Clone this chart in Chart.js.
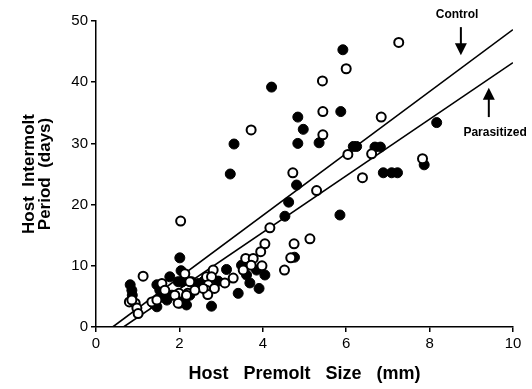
<!DOCTYPE html>
<html>
<head>
<meta charset="utf-8">
<script src="https://cdn.jsdelivr.net/npm/chart.js@4"></script>
<style>
  html, body { margin: 0; padding: 0; background: #fff; }
  #wrap { width: 532px; height: 389px; }
</style>
</head>
<body>
<div id="wrap"><canvas id="chart" width="532" height="389"></canvas></div>
<script>
// Control (open circles): premolt size (mm) / intermolt period (days)
const controlX = [7.26, 6.00, 5.43, 3.72, 5.44, 6.84, 5.44, 6.04, 6.61, 7.83,
                  6.39, 4.72, 5.29, 4.17, 4.05, 3.95, 4.75, 5.13, 4.67, 4.52,
                  2.03, 3.59, 3.77, 3.53, 3.72, 2.81, 2.65, 2.77, 2.69, 2.65,
                  2.84, 2.68, 2.57, 1.13, 2.13, 2.25, 1.99, 2.20, 1.58, 1.34,
                  1.46, 1.65, 0.80, 0.94, 0.98, 1.01, 0.86, 1.89, 1.97, 2.17,
                  2.37, 3.09, 3.29, 3.98];
const controlY = [46.5, 42.2, 40.2, 32.2, 35.2, 34.3, 31.4, 28.2, 28.3, 27.5,
                  24.4, 25.2, 22.3, 16.2, 13.6, 12.3, 13.6, 14.4, 11.3, 9.3,
                  17.3, 11.2, 11.2, 9.3, 10.1, 9.3, 8.2, 8.2, 6.9, 6.0,
                  6.3, 5.3, 6.3, 8.3, 8.7, 7.4, 5.5, 5.5, 7.1, 4.1,
                  4.4, 6.0, 4.1, 3.9, 3.1, 2.2, 4.4, 5.2, 3.9, 5.2,
                  6.0, 7.2, 8.0, 10.0];

// Parasitized (filled circles)
const parasitX = [5.92, 4.21, 3.31, 3.22, 4.84, 4.97, 4.84, 5.87, 5.35, 8.17,
                  6.17, 6.25, 6.69, 6.82, 7.87, 6.89, 7.09, 7.23, 5.85, 4.81,
                  4.62, 4.53, 4.76, 3.85, 4.05, 3.91, 2.01, 2.04, 1.97, 2.07,
                  2.13, 3.13, 2.77, 3.41, 3.49, 3.61, 1.77, 0.86, 0.87, 1.37,
                  1.53, 1.46, 1.58, 1.46, 1.70, 1.82, 2.01, 2.17, 2.29, 2.45,
                  2.57, 2.93, 3.69, 2.25, 0.82];
const parasitY = [45.3, 39.2, 29.9, 25.0, 34.3, 32.3, 30.0, 35.2, 30.1, 33.4,
                  29.5, 29.5, 29.4, 29.4, 26.5, 25.2, 25.2, 25.2, 18.3, 23.2,
                  20.4, 18.1, 11.4, 9.3, 8.5, 6.3, 11.3, 9.2, 7.4, 7.4,
                  4.4, 9.4, 3.4, 5.5, 10.1, 8.5, 8.2, 6.0, 5.2, 3.9,
                  6.0, 6.9, 5.2, 3.3, 4.4, 5.2, 3.9, 3.6, 7.4, 7.1,
                  7.4, 7.5, 7.2, 5.2, 6.9];

// regression lines (end points)
const controlLineX = [0.40, 10];
const controlLineY = [0, 48.6];
const parasitLineX = [0.66, 10];
const parasitLineY = [0, 43.2];

const xTicks = [0, 2, 4, 6, 8, 10];
const yTicks = [0, 10, 20, 30, 40, 50];

const FONT = '"Liberation Sans", Arial, Helvetica, sans-serif';

function pts(xs, ys) {
    return xs.map((x, i) => ({ x: x, y: ys[i] }));
}

// Etiquetas com setas (Control / Parasitized)
const arrowLabels = [
    { text: 'Control', tx: 8.66, ty: 51.1, x: 8.75, from: 49.0, to: 44.4 },
    { text: 'Parasitized', tx: 9.57, ty: 31.7, x: 9.42, from: 34.3, to: 39.1 }
];

const arrowPlugin = {
    id: 'arrows',
    afterDatasetsDraw(chart) {
        const ctx = chart.ctx;
        const xs = chart.scales.x, ys = chart.scales.y;
        ctx.save();
        ctx.fillStyle = '#000';
        ctx.strokeStyle = '#000';
        ctx.font = 'bold 12px ' + FONT;
        ctx.textAlign = 'center';
        ctx.textBaseline = 'middle';
        arrowLabels.forEach(a => {
            ctx.fillText(a.text, xs.getPixelForValue(a.tx), ys.getPixelForValue(a.ty));
            const px = xs.getPixelForValue(a.x);
            const y0 = ys.getPixelForValue(a.from);
            const y1 = ys.getPixelForValue(a.to);
            const dir = y1 > y0 ? 1 : -1;
            ctx.lineWidth = 2;
            ctx.beginPath();
            ctx.moveTo(px, y0);
            ctx.lineTo(px, y1 - dir * 10);
            ctx.stroke();
            ctx.beginPath();
            ctx.moveTo(px, y1);
            ctx.lineTo(px - 6, y1 - dir * 12);
            ctx.lineTo(px + 6, y1 - dir * 12);
            ctx.closePath();
            ctx.fill();
        });
        ctx.restore();
    }
};

new Chart(document.getElementById('chart'), {
    type: 'scatter',
    data: {
        datasets: [
            {
                label: 'Control',
                data: pts(controlX, controlY),
                pointRadius: 4.5,
                pointBackgroundColor: '#fff',
                pointBorderColor: '#000',
                pointBorderWidth: 2,
                order: 0
            },
            {
                label: 'Parasitized',
                data: pts(parasitX, parasitY),
                pointRadius: 5,
                pointBackgroundColor: '#000',
                pointBorderColor: '#000',
                pointBorderWidth: 1,
                order: 0
            },
            {
                label: 'Control fit',
                type: 'line',
                data: pts(controlLineX, controlLineY),
                borderColor: '#000',
                borderWidth: 1.6,
                pointRadius: 0,
                fill: false,
                order: 2
            },
            {
                label: 'Parasitized fit',
                type: 'line',
                data: pts(parasitLineX, parasitLineY),
                borderColor: '#000',
                borderWidth: 1.6,
                pointRadius: 0,
                fill: false,
                order: 2
            }
        ]
    },
    options: {
        responsive: false,
        animation: false,
        layout: { padding: { top: 21, right: 19, left: 0, bottom: 0 } },
        plugins: {
            legend: { display: false },
            tooltip: { enabled: false }
        },
        scales: {
            x: {
                type: 'linear',
                min: 0,
                max: 10,
                afterBuildTicks: s => { s.ticks = xTicks.map(v => ({ value: v })); },
                afterFit: s => { s.height = 62; },
                border: { display: true, color: '#000', width: 1.5 },
                grid: { display: true, drawOnChartArea: false, drawTicks: true, tickLength: 5, color: '#000', lineWidth: 1.5 },
                ticks: { color: '#000', font: { family: FONT, size: 15 }, padding: 3, maxRotation: 0 },
                title: {
                    display: true,
                    text: 'Host   Premolt   Size   (mm)',
                    color: '#000',
                    font: { family: FONT, size: 18, weight: 'bold', lineHeight: 1.0 },
                    padding: { top: 0, bottom: 6 }
                }
            },
            y: {
                type: 'linear',
                min: 0,
                max: 50,
                afterBuildTicks: s => { s.ticks = yTicks.map(v => ({ value: v })); },
                afterFit: s => { s.width = 96; },
                border: { display: true, color: '#000', width: 1.5 },
                grid: { display: true, drawOnChartArea: false, drawTicks: true, tickLength: 5, color: '#000', lineWidth: 1.5 },
                ticks: { color: '#000', font: { family: FONT, size: 15 }, padding: 3 },
                title: {
                    display: true,
                    text: ['Host  Intermolt', 'Period  (days)'],
                    color: '#000',
                    font: { family: FONT, size: 17, weight: 'bold', lineHeight: 0.95 },
                    padding: { top: 21, bottom: 0 }
                }
            }
        }
    },
    plugins: [arrowPlugin]
});
</script>
</body>
</html>
